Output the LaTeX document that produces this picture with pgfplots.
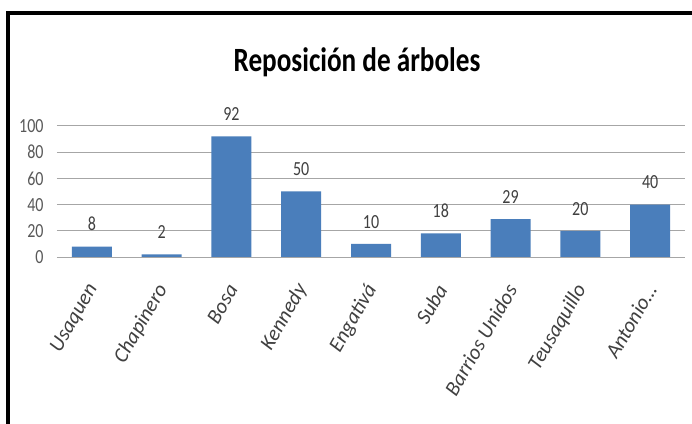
\documentclass[border=0pt]{standalone}
\usepackage{pgfplots}
\pgfplotsset{compat=1.18}
\usepackage{fontspec}
\setmainfont{Carlito}[FakeStretch=0.8]
\newfontfamily\catfont{Carlito}
\definecolor{barblue}{HTML}{4A7EBB}
\definecolor{gridc}{HTML}{A6A6A6}
\definecolor{txt}{HTML}{595959}
\definecolor{lbl}{HTML}{404040}
\begin{document}
\begin{tikzpicture}
\useasboundingbox (0bp,0bp) rectangle (692bp,424bp);
\fill[white] (0bp,0bp) rectangle (692bp,424bp);
\draw[line width=4bp] (8bp,0bp) -- (8bp,410.5bp) -- (692bp,410.5bp);
\node[anchor=base, font=\bfseries\fontsize{34bp}{40bp}\selectfont, text=black] at (357bp,352bp) {Reposición de árboles};
\begin{axis}[
  at={(371bp,232.5bp)}, anchor=center,
  scale only axis, width=628bp, height=131bp,
  xmin=-0.5, xmax=8.5, ymin=0, ymax=100,
  ybar, bar width=40bp,
  axis line style={draw=none},
  major tick length=0pt,
  ymajorgrids, grid style={gridc, line width=1bp},
  ytick={0,20,40,60,80,100},
  xtick={0,1,2,3,4,5,6,7,8},
  xticklabels={Usaquen, Chapinero, Bosa, Kennedy, Engativá, Suba, Barrios Unidos, Teusaquillo, Antonio\ldots},
  /pgf/number format/assume math mode=true,
  yticklabel style={font=\fontsize{20bp}{22bp}\selectfont, text=txt, anchor=east, xshift=-10bp},
  xticklabel style={xshift=3bp, yshift=-26bp, rotate=60, anchor=east, font=\catfont\itshape\fontsize{21bp}{23bp}\selectfont, text=lbl},
  nodes near coords,
  every node near coord/.append style={font=\fontsize{20bp}{22bp}\selectfont, text=lbl, yshift=12bp},
]
\addplot[fill=barblue, draw=none] coordinates {(0,8) (1,2) (2,92) (3,50) (4,10) (5,18) (6,29) (7,20) (8,40)};
\end{axis}
\end{tikzpicture}
\end{document}
